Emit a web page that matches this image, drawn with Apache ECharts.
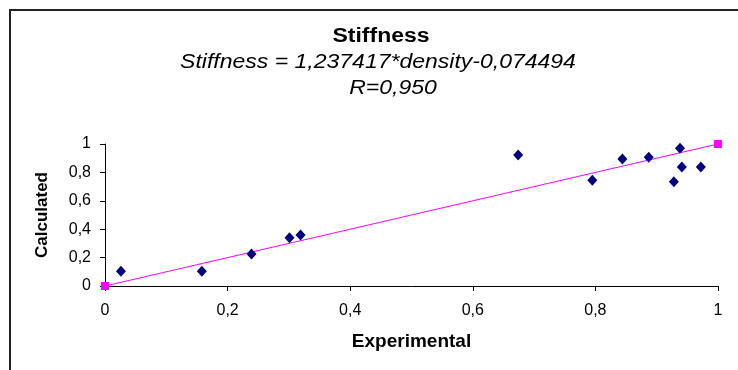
<!DOCTYPE html>
<html>
<head>
    <meta charset="utf-8">
    <title>Stiffness</title>
    <style>
        html, body { margin: 0; padding: 0; background: #fff; }
        #main { width: 738px; height: 370px; }
    </style>
</head>
<body>
<div id="main"></div>
<script src="https://cdn.jsdelivr.net/npm/echarts@6/dist/echarts.min.js"></script>
<script>
    // measured points (experimental vs calculated)
    var experimental = [0.026, 0.158, 0.239, 0.301, 0.319, 0.674, 0.795, 0.844, 0.887, 0.928, 0.938, 0.941, 0.972];
    var calculated   = [0.104, 0.104, 0.225, 0.340, 0.359, 0.922, 0.744, 0.894, 0.906, 0.735, 0.970, 0.838, 0.838];
    // y = x reference line
    var lineX = [0, 1];
    var lineY = [0, 1];

    var titleText = 'Stiffness';
    var equationText = 'Stiffness = 1,237417*density-0,074494';
    var rText = 'R=0,950';

    function fmt(v) {
        return String(v).replace('.', ',');
    }

    var points = experimental.map(function (x, i) { return [x, calculated[i]]; });
    var linePts = lineX.map(function (x, i) { return [x, lineY[i]]; });

    var myChart = echarts.init(document.getElementById('main'));
    var font = '"Liberation Sans", Arial, sans-serif';

    // header text, slightly stretched like the original picture
    function headText(txt, cx, cy, style) {
        return {
            type: 'text', x: cx, y: cy, scaleX: 1.15,
            style: {
                text: txt, x: 0, y: 0, font: style + ' 20px ' + font, fill: '#000',
                textAlign: 'center', textVerticalAlign: 'middle'
            }
        };
    }

    var option = {
        backgroundColor: '#FFFFFF',
        animation: false,
        textStyle: { fontFamily: font },
        graphic: [{
            type: 'polyline',
            shape: { points: [[10, 370], [10, 10], [738, 10]] },
            style: { stroke: '#222', lineWidth: 2, fill: null }
        },
            headText(titleText, 381, 36, 'bold'),
            headText(equationText, 378, 62, 'italic'),
            headText(rText, 393, 88, 'italic')
        ],
        grid: { left: 105, right: 20, top: 144, bottom: 84 },
        xAxis: {
            type: 'value', min: 0, max: 1, interval: 0.2,
            name: 'Experimental', nameLocation: 'middle', nameGap: 46,
            nameTextStyle: { fontWeight: 'bold', fontSize: 19, color: '#000' },
            axisLine: { lineStyle: { color: '#000' } },
            axisTick: { show: true, length: 5, lineStyle: { color: '#000' } },
            axisLabel: { color: '#000', fontSize: 16, margin: 17, formatter: fmt },
            splitLine: { show: false }
        },
        yAxis: {
            type: 'value', min: 0, max: 1, interval: 0.2,
            name: 'Calculated', nameLocation: 'middle', nameGap: 54,
            nameTextStyle: { fontWeight: 'bold', fontSize: 17, color: '#000' },
            axisLine: { show: true, lineStyle: { color: '#000' } },
            axisTick: { show: true, length: 5, lineStyle: { color: '#000' } },
            axisLabel: { color: '#000', fontSize: 16, margin: 14, formatter: fmt },
            splitLine: { show: false }
        },
        series: [{
            type: 'line',
            data: linePts,
            symbol: 'rect',
            symbolSize: 8,
            lineStyle: { color: '#FF00FF', width: 1 },
            itemStyle: { color: '#FF00FF' },
            z: 2
        }, {
            type: 'scatter',
            data: points,
            symbol: 'diamond',
            symbolSize: [10, 11],
            itemStyle: { color: '#000080', opacity: 1 },
            z: 3
        }]
    };
    myChart.setOption(option);
</script>
</body>
</html>
